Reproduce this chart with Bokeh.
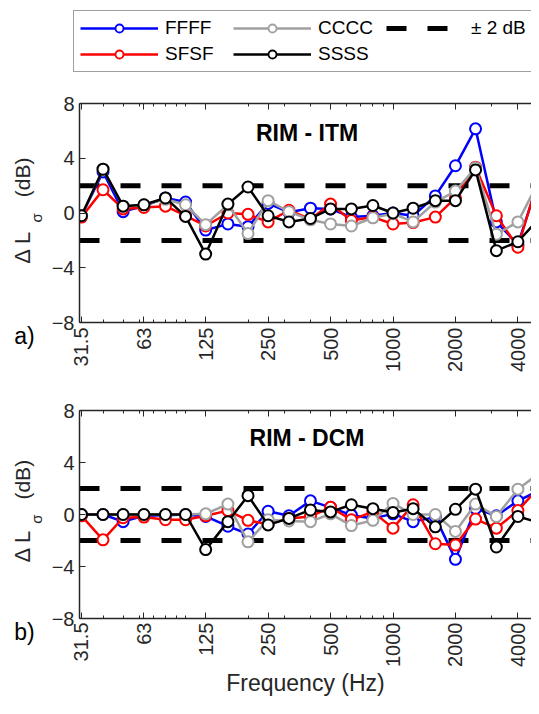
import numpy as np
from bokeh.plotting import figure
from bokeh.layouts import column, row
from bokeh.models import FixedTicker, Span, Legend, LegendItem, LogAxis
from bokeh.core.properties import value
from bokeh.embed import file_html
from bokeh.resources import INLINE

# ---------------- data ----------------
freqs = [31.5, 40, 50, 63, 80, 100, 125, 160, 200, 250, 315, 400, 500, 630,
         800, 1000, 1250, 1600, 2000, 2500, 3150, 4000, 5000]

tick_vals = [31.5, 63.0, 125.0, 250.0, 500.0, 1000.0, 2000.0, 4000.0]
tick_labels = ["31.5", "63", "125", "250", "500", "1000", "2000", "4000"]
minor_vals = [40, 50, 60, 70, 80, 90, 100, 200, 300, 400, 600, 700, 800, 900, 3000]
y_ticks = [-8, -4, 0, 4, 8]
tolerance_db = 2.0

series_names = ["FFFF", "SFSF", "CCCC", "SSSS"]
series_colors = ["#0000ff", "#ff0000", "#a0a0a0", "#000000"]

itm_ffff = [-0.2, 3.0, 0.1, 0.5, 1.1, 0.8, -1.25, -0.8, -1.0, 0.7, 0.05, 0.35, 0.3,
            -0.3, -0.2, 0.0, -0.2, 1.25, 3.45, 6.15, -0.65, -2.3, 2.2]
itm_sfsf = [-0.3, 1.7, 0.3, 0.4, 0.5, -0.2, -0.95, 0.0, -0.1, -0.65, 0.2, -0.45, 0.65,
            -0.55, -0.3, -0.8, -0.7, -0.3, 1.1, 3.35, -0.2, -2.5, 2.4]
itm_cccc = [-0.2, 3.2, 0.5, 0.6, 1.0, 0.6, -0.85, 0.6, -1.5, 0.9, 0.1, -0.5, -0.8,
            -0.95, -0.35, -0.05, -0.65, 0.8, 1.6, 3.3, -1.55, -0.65, 2.2]
itm_ssss = [-0.2, 3.2, 0.5, 0.6, 1.1, -0.25, -3.0, 0.65, 1.9, -0.2, -0.65, -0.4, 0.3,
            0.3, 0.55, 0.0, 0.35, 0.9, 0.9, 3.15, -2.75, -2.1, -0.5]

dcm_ffff = [0.0, 0.0, -0.55, -0.1, -0.05, 0.0, -0.15, -0.9, -1.5, 0.25, -0.1, 1.05, 0.55,
            -0.05, -0.3, 0.05, -0.55, -0.2, -3.45, 0.45, -0.1, 1.05, 1.8]
dcm_sfsf = [-0.1, -1.95, -0.25, -0.2, -0.4, -0.4, -0.1, 0.3, -0.45, -0.75, -0.3, -0.15, 0.55,
            -0.4, 0.2, -1.05, 0.75, -2.25, -2.35, -0.35, -1.05, 0.3, 2.0]
dcm_cccc = [0.0, 0.0, 0.0, 0.0, 0.0, 0.0, 0.05, 0.8, -2.1, -0.4, -0.5, -0.55, 0.05,
            -0.85, -0.45, 0.85, 0.0, 0.0, -1.3, 0.8, -0.15, 1.95, 3.1]
dcm_ssss = [0.0, 0.0, 0.0, 0.0, 0.0, 0.0, -2.7, -0.55, 1.45, -0.8, -0.3, 0.35, 0.2,
            0.75, 0.45, 0.15, 0.45, -0.95, 0.4, 1.95, -2.5, -0.15, -0.6]

panels = [
    ("RIM - ITM", "a)", [itm_ffff, itm_sfsf, itm_cccc, itm_ssss]),
    ("RIM - DCM", "b)", [dcm_ffff, dcm_sfsf, dcm_cccc, dcm_ssss]),
]

FONT = "Liberation Sans"
TXT = "#262626"
X_RANGE = (30.81, 4652.0)
TOTAL_W = 531
LAB_W = 48

# ---------------- legend figure ----------------
leg = figure(width=TOTAL_W, height=88, output_backend="svg", toolbar_location=None,
             x_range=(0, 1), y_range=(0, 1), min_border_left=73, min_border_top=10,
             min_border_right=0, min_border_bottom=0,
             x_axis_location=None, y_axis_location=None)
leg.outline_line_color = None
leg.grid.visible = False
items = []
for name, col, vals in zip(series_names, series_colors, panels[0][2]):
    r1 = leg.line(freqs, vals, line_color=col, line_width=2.5)
    r2 = leg.scatter(freqs, vals, marker="circle", size=8, line_color=col,
                     line_width=1.8, fill_color="white")
    items.append(LegendItem(label=name, renderers=[r1, r2]))
rd = leg.line(freqs, [tolerance_db] * len(freqs), line_color="black", line_width=5,
              line_dash="20 21")
items.append(LegendItem(label="\u00b1 2 dB", renderers=[rd]))
legend = Legend(items=items, nrows=2, location="top_left", margin=0, padding=6,
                spacing=4, glyph_width=78, glyph_height=20, label_standoff=7,
                label_width=64, label_text_font=FONT, label_text_font_size="19px",
                label_text_color="black", border_line_color="#404040",
                border_line_width=1, background_fill_color="white",
                background_fill_alpha=1.0)
leg.add_layout(legend)

# ---------------- data panels ----------------
rows = [leg]
for i, (title, tag, data) in enumerate(panels):
    if i == 0:
        h, top, bottom = 297, 15, 63
    else:
        h, top, bottom = 313, 25, 75
    p = figure(width=TOTAL_W - LAB_W, height=h, x_axis_type="log", x_range=X_RANGE,
               y_range=(-8, 8), output_backend="svg", toolbar_location=None,
               min_border_left=75 - LAB_W, min_border_right=0, min_border_top=top,
               min_border_bottom=bottom)
    p.outline_line_color = None
    p.grid.visible = False
    p.background_fill_color = "white"

    for sgn in (1, -1):
        p.add_layout(Span(location=sgn * tolerance_db, dimension="width",
                          line_color="black", line_width=5, line_dash="20 21",
                          level="underlay"))

    for vals, col in zip(data, series_colors):
        p.line(freqs, vals, line_color=col, line_width=2.5)
        p.scatter(freqs, vals, marker="circle", size=11, line_color=col,
                  line_width=2, fill_color="white")

    # x axis
    xa = p.xaxis[0]
    xa.ticker = FixedTicker(ticks=tick_vals, minor_ticks=minor_vals)
    xa.major_label_overrides = {v: s for v, s in zip(tick_vals, tick_labels)}
    xa.major_label_orientation = np.pi / 2
    xa.major_label_text_font = FONT
    xa.major_label_text_font_size = "20px"
    xa.major_label_text_color = TXT
    xa.major_label_standoff = 5 if i == 0 else 4
    xa.major_tick_in = 6
    xa.major_tick_out = 0
    xa.minor_tick_in = 3
    xa.minor_tick_out = 0
    xa.axis_line_width = 1.5
    xa.axis_line_color = TXT
    xa.major_tick_line_color = TXT
    xa.minor_tick_line_color = TXT
    if i == 1:
        xa.axis_label = "Frequency (Hz)"
        xa.axis_label_text_font = FONT
        xa.axis_label_text_font_size = "23px"
        xa.axis_label_text_font_style = "normal"
        xa.axis_label_text_color = TXT
        xa.axis_label_standoff = 0

    # top box axis (ticks only)
    ta = LogAxis(ticker=FixedTicker(ticks=tick_vals, minor_ticks=minor_vals),
                 major_label_overrides={v: "" for v in tick_vals},
                 major_label_text_font_size="1px", major_label_standoff=0,
                 major_tick_in=6, major_tick_out=0, minor_tick_in=3,
                 minor_tick_out=0, axis_line_width=1.5, axis_line_color=TXT,
                 major_tick_line_color=TXT, minor_tick_line_color=TXT)
    p.add_layout(ta, "above")

    # y axis
    ya = p.yaxis[0]
    ya.ticker = FixedTicker(ticks=y_ticks)
    ya.major_label_text_font = FONT
    ya.major_label_text_font_size = "20px"
    ya.major_label_text_color = TXT
    ya.major_label_standoff = 5
    ya.major_tick_in = 6
    ya.major_tick_out = 0
    ya.minor_tick_line_color = None
    ya.axis_line_width = 1.5
    ya.axis_line_color = TXT
    ya.major_tick_line_color = TXT

    # panel title
    p.text(x=[385.0], y=[5.85], text=[title], text_align="center",
           text_baseline="middle", text_font=value(FONT), text_font_size="23px",
           text_font_style="bold", text_color="black")

    # label column (y-axis label; panel tag as its x-axis label)
    lab = figure(width=LAB_W, height=h, output_backend="svg", toolbar_location=None,
                 x_range=(0, LAB_W), y_range=(-8, 8),
                 min_border_left=0, min_border_right=0, min_border_top=top,
                 min_border_bottom=bottom, y_axis_location=None)
    lab.outline_line_color = None
    lab.grid.visible = False
    la = lab.xaxis[0]
    la.ticker = FixedTicker(ticks=[])
    la.axis_line_color = None
    la.major_tick_line_color = None
    la.minor_tick_line_color = None
    la.axis_label = tag
    la.axis_label_standoff = 0
    la.axis_label_text_font = FONT
    la.axis_label_text_font_size = "23px"
    la.axis_label_text_font_style = "normal"
    la.axis_label_text_color = "black"

    lab.text(x=[22], y=[-3.7], text=["\u0394 L"], angle=np.pi / 2, text_align="left",
             text_baseline="middle", text_font=value(FONT), text_font_size="22px",
             text_color=TXT)
    lab.text(x=[36], y=[-0.35], text=["\u03c3"], angle=np.pi / 2, text_align="center",
             text_baseline="middle", text_font=value(FONT), text_font_size="15px",
             text_color=TXT)
    lab.text(x=[22], y=[1.15], text=["(dB)"], angle=np.pi / 2, text_align="left",
             text_baseline="middle", text_font=value(FONT), text_font_size="21px",
             text_color=TXT)
    rows.append(row(lab, p, spacing=0))

layout = column(*rows, spacing=0)
open("out.html", "w").write(file_html(layout, INLINE))
